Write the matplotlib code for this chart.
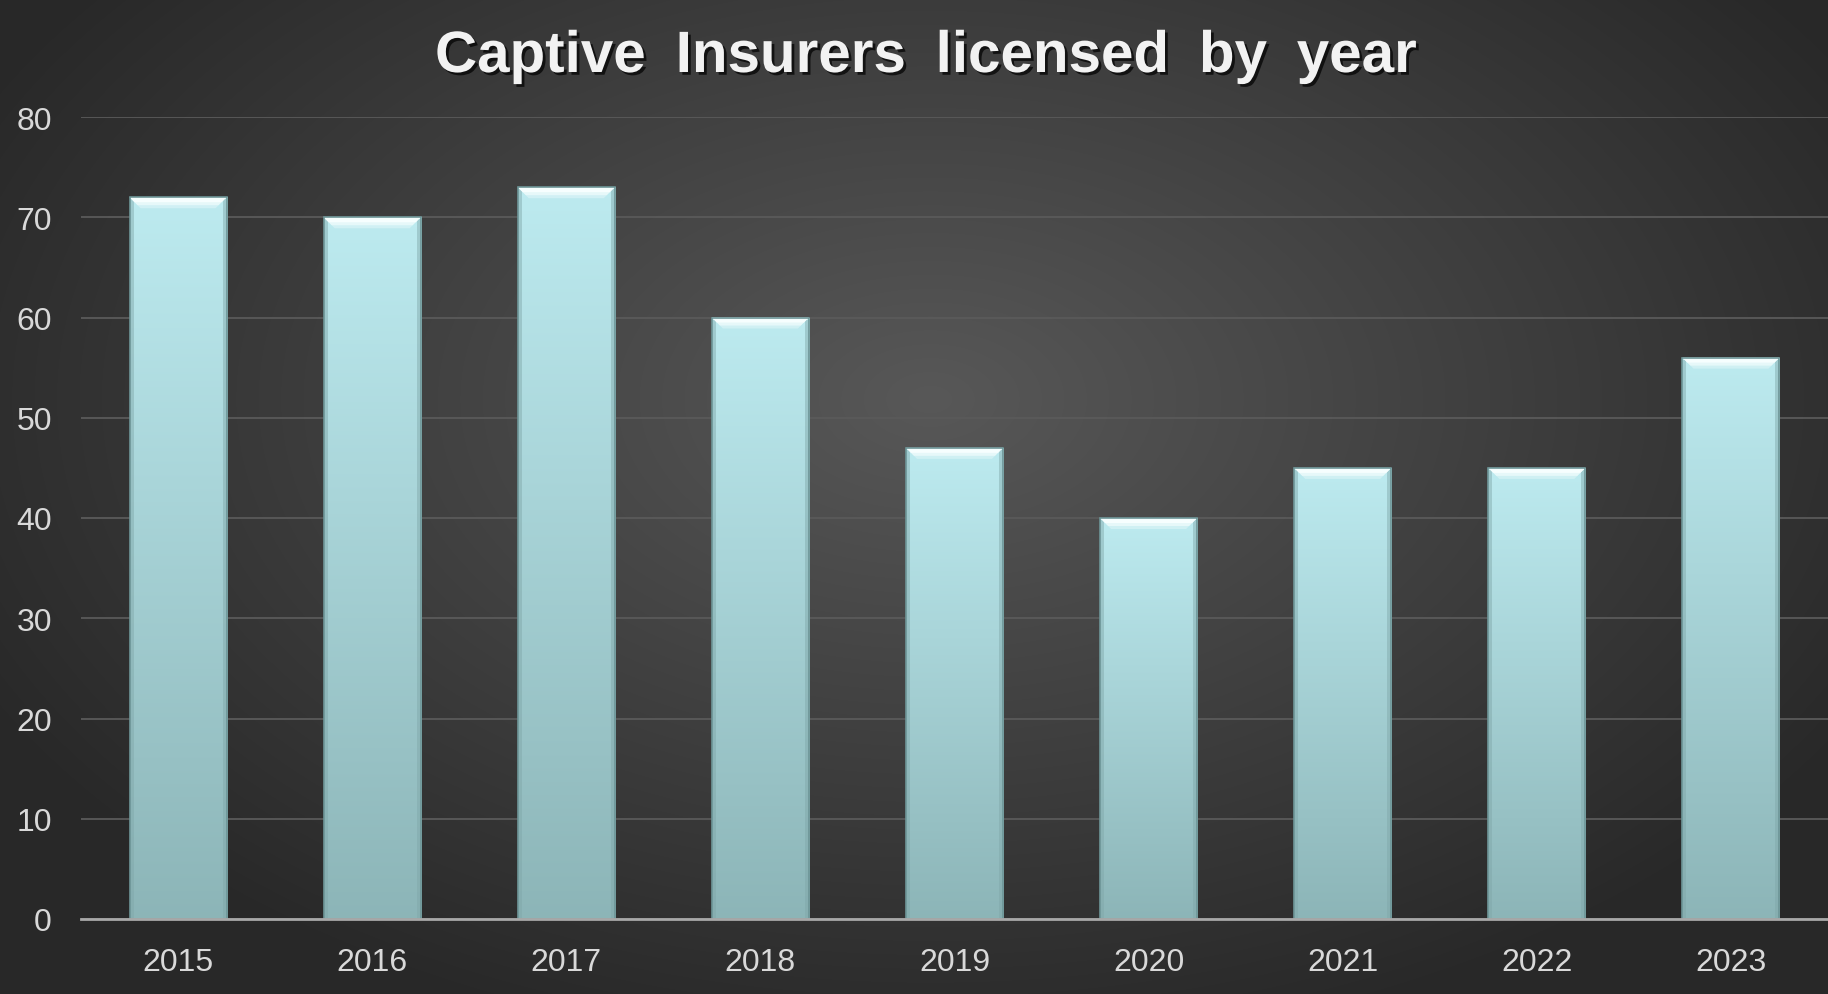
import numpy as np
import matplotlib
matplotlib.use("Agg")
import matplotlib.pyplot as plt
from matplotlib.patches import Polygon
import matplotlib.patheffects as pe

years = ["2015", "2016", "2017", "2018", "2019", "2020", "2021", "2022", "2023"]
licensed = [72, 70, 73, 60, 47, 40, 45, 45, 56]
yticks = [0, 10, 20, 30, 40, 50, 60, 70, 80]
title = "Captive Insurers licensed by year"

W, H = 1828, 995
plt.rcParams["font.family"] = ["Liberation Sans", "DejaVu Sans"]

fig = plt.figure(figsize=(W / 100, H / 100), dpi=100)

# radial background
bg = fig.add_axes([0, 0, 1, 1], zorder=-5)
yy, xx = np.mgrid[0:H, 0:W]
r = np.sqrt(((xx - 930) / 1000.0) ** 2 + ((yy - 400) / 620.0) ** 2)
shade = np.clip(0.345 - 0.175 * r, 0.16, 0.35)
bg.imshow(np.dstack([shade, shade, shade]), aspect="auto", extent=[0, 1, 0, 1])
bg.axis("off")

ax = fig.add_axes([81 / W, (H - 920) / H, (W - 81) / W, (920 - 118) / H])
ax.set_facecolor("none")
ax.set_xlim(-0.5, len(years) - 0.5)
ax.set_ylim(0, 80)

x = np.arange(len(years))
bars = ax.bar(x, licensed, width=0.5, color="none", edgecolor="#6d9597",
              linewidth=1.2, zorder=3)

top_c = np.array([0.74, 0.92, 0.94])
bot_c = np.array([0.55, 0.71, 0.72])
px_x = 1.0 / 194.0   # data units per pixel in x
px_y = 80.0 / 802.0  # data units per pixel in y
for b in bars:
    x0, w, h = b.get_x(), b.get_width(), b.get_height()
    t = np.linspace(0, 1, 200)[:, None]
    grad = bot_c * (1 - t[..., None]) + top_c * t[..., None]
    grad = np.repeat(grad, 2, axis=1)
    im = ax.imshow(grad, extent=[x0, x0 + w, 0, h], origin="lower",
                   aspect="auto", zorder=2, interpolation="bilinear")
    im.set_clip_path(b)
    # side bevels
    ax.fill_between([x0, x0 + 4 * px_x], 0, h - 2 * px_y, color="#7fa6a8",
                    alpha=0.45, zorder=2.5, linewidth=0)
    ax.fill_between([x0 + w - 4 * px_x, x0 + w], 0, h - 2 * px_y, color="#7fa6a8",
                    alpha=0.45, zorder=2.5, linewidth=0)
    # top bevel: bright strip fading down
    for k, a in [(11, 0.35), (8, 0.6), (5, 1.0)]:
        bev = Polygon([[x0, h], [x0 + w, h], [x0 + w - k * px_x, h - k * px_y],
                       [x0 + k * px_x, h - k * px_y]], closed=True,
                      facecolor="#f6fefe", alpha=a, edgecolor="none", zorder=2.6)
        ax.add_patch(bev)

ax.set_yticks(yticks)
ax.set_xticks(x)
ax.set_xticklabels(years)
ax.grid(axis="y", color="#5a5a5a", linewidth=1.3, zorder=0)
ax.set_axisbelow(True)
for s in ["top", "right", "left"]:
    ax.spines[s].set_visible(False)
ax.spines["bottom"].set_color("#a8a8a8")
ax.spines["bottom"].set_linewidth(2)
ax.spines["bottom"].set_zorder(4)
ax.tick_params(axis="both", length=0, labelsize=23, labelcolor="#d9d9d9")
ax.tick_params(axis="y", pad=21)
ax.tick_params(axis="x", pad=20)

# title, word by word to get the wide spacing of the original
shadow = [pe.withSimplePatchShadow(offset=(2, -2), shadow_rgbFace="black", alpha=0.7)]
words = [fig.text(0, 1 - 58 / H, wd, ha="left", va="center", fontsize=42,
                  fontweight="bold", color="#f2f2f2", path_effects=shadow)
         for wd in title.split()]
fig.canvas.draw()
rend = fig.canvas.get_renderer()
widths = [t.get_window_extent(rend).width for t in words]
left, right = 435, 1417
gap = (right - left - sum(widths)) / (len(words) - 1)
pos = left
for t, wdt in zip(words, widths):
    t.set_x(pos / W)
    pos += wdt + gap

fig.savefig("out.png", dpi=100)
